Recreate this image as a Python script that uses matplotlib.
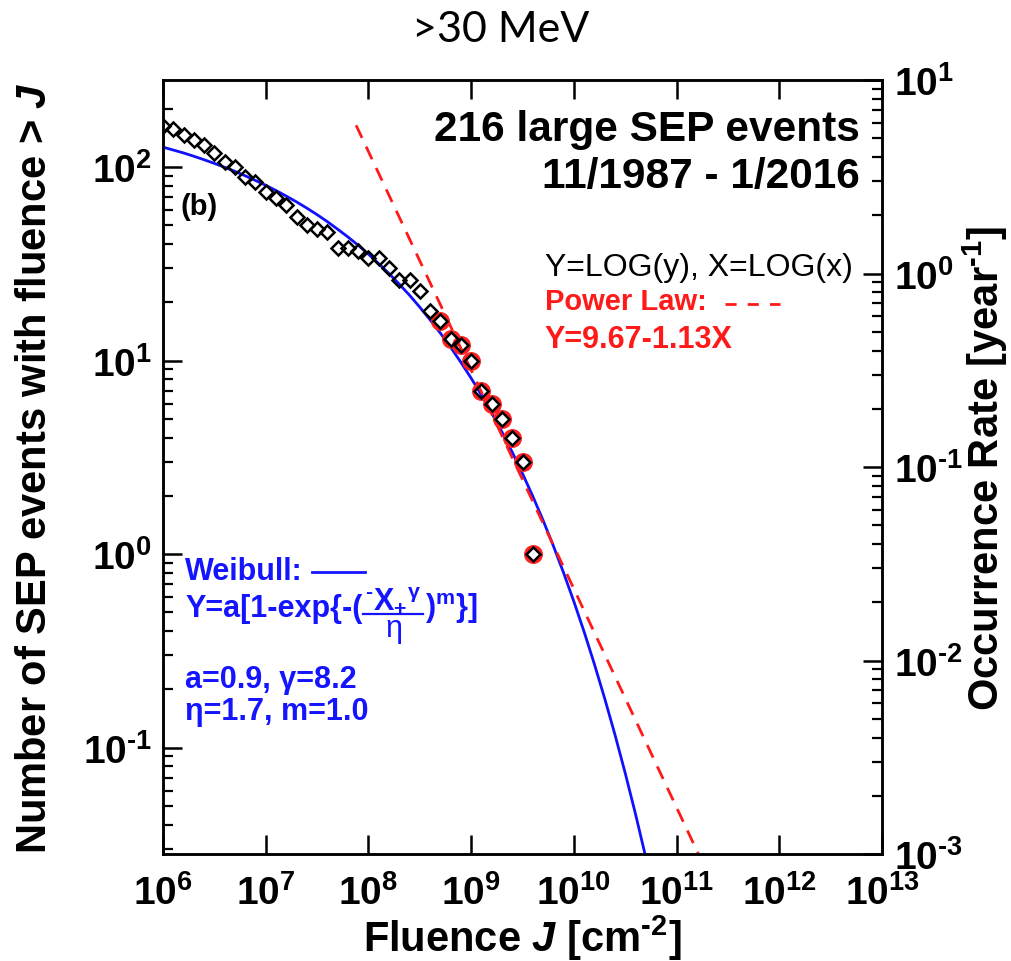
import numpy as np
import matplotlib
matplotlib.use('Agg')
import matplotlib.pyplot as plt
from matplotlib.ticker import FixedLocator, FuncFormatter, NullLocator, LogLocator, NullFormatter

SANS = 'Liberation Sans'
plt.rcParams['mathtext.fontset'] = 'custom'
plt.rcParams['mathtext.rm'] = SANS + ':bold'
plt.rcParams['mathtext.bf'] = SANS + ':bold'
plt.rcParams['mathtext.sf'] = SANS + ':bold'
plt.rcParams['mathtext.it'] = SANS + ':bold:italic'

# ---------------- data ----------------
years = 28.2  # 11/1987 - 1/2016
fluence_log = [6.0, 6.1, 6.2, 6.3, 6.4, 6.5, 6.6, 6.7, 6.8, 6.9,
               7.0, 7.1, 7.2, 7.3, 7.4, 7.5, 7.6, 7.7, 7.8, 7.9,
               8.0, 8.1, 8.2, 8.3, 8.4, 8.5, 8.6, 8.7, 8.8, 8.9,
               9.0, 9.1, 9.2, 9.3, 9.4, 9.5, 9.6]
n_events = [164, 157, 146, 138, 130, 119, 106, 100, 89, 84,
            74, 69, 64, 55, 50, 48, 46, 38, 38, 37,
            34, 34, 30, 26, 26, 23, 18, 16, 13, 12,
            10, 7, 6, 5, 4, 3, 1]
fit_start = 27  # first point used in the power-law fit (red circles)

weibull_log_x = [6.0, 6.1, 6.2, 6.3, 6.4, 6.5, 6.6, 6.7, 6.8, 6.9,
                 7.0, 7.1, 7.2, 7.3, 7.4, 7.5, 7.6, 7.7, 7.8, 7.9,
                 8.0, 8.1, 8.2, 8.3, 8.4, 8.5, 8.6, 8.7, 8.8, 8.9,
                 9.0, 9.1, 9.2, 9.3, 9.4, 9.5, 9.6, 9.7, 9.8, 9.9,
                 10.0, 10.1, 10.2, 10.3, 10.4, 10.5, 10.6, 10.7]
weibull_log_rate = [0.653, 0.638, 0.623, 0.606, 0.588, 0.569, 0.549, 0.528, 0.505, 0.481,
                    0.456, 0.429, 0.400, 0.370, 0.338, 0.304, 0.268, 0.229, 0.189, 0.146,
                    0.100, 0.051, 0.000, -0.055, -0.112, -0.174, -0.239, -0.308, -0.381, -0.459,
                    -0.541, -0.628, -0.721, -0.819, -0.923, -1.034, -1.151, -1.275, -1.407, -1.547,
                    -1.695, -1.852, -2.019, -2.196, -2.383, -2.582, -2.793, -3.017]
power_log_x = [7.88, 11.21]
power_log_rate = [0.766, -2.997]

x_tick_exps = [6, 7, 8, 9, 10, 11, 12, 13]
left_tick_exps = [-1, 0, 1, 2]
right_tick_exps = [-3, -2, -1, 0, 1]

# ---------------- figure ----------------
fig = plt.figure(figsize=(10.12, 9.62), dpi=100)
ax = fig.add_axes([163/1012, 1-855/962, 719/1012, 774/962])
ax2 = ax.twinx()

fx = 10.0 ** np.array(fluence_log)
ny = np.array(n_events, dtype=float)

ax.plot(10.0 ** np.array(weibull_log_x), years * 10.0 ** np.array(weibull_log_rate),
        color='#1010ff', lw=2.0, zorder=3, solid_capstyle='butt')
ax.plot(10.0 ** np.array(power_log_x), years * 10.0 ** np.array(power_log_rate),
        color='#ff1a1a', lw=2.0, dashes=(5, 3.5), zorder=3)
ax.plot(fx[fit_start:], ny[fit_start:], 'o', ms=11, mfc='none', mec='#ff2020', mew=2.6, zorder=4)
ax.plot(fx, ny, 'D', ms=7, mfc='none', mec='black', mew=1.8, zorder=5)

ax.set_xscale('log')
ax.set_yscale('log')
ax.set_xlim(1e6, 1e13)
ax.set_ylim(1e-3 * years, 10 * years)
ax2.set_yscale('log')
ax2.set_ylim(1e-3, 10)

for s in ax.spines.values():
    s.set_linewidth(1.8)
for s in ax2.spines.values():
    s.set_linewidth(1.8)

def fmt(v, p):
    e = int(round(np.log10(v)))
    if e < 0:
        return r'$\mathbf{10^{\text{-}%d}}$' % (-e)
    return r'$\mathbf{10^{%d}}$' % e

ax.xaxis.set_major_locator(FixedLocator([10.0 ** e for e in x_tick_exps]))
ax.xaxis.set_minor_locator(NullLocator())
ax.xaxis.set_major_formatter(FuncFormatter(fmt))
ax.yaxis.set_major_locator(FixedLocator([10.0 ** e for e in left_tick_exps]))
ax.yaxis.set_minor_locator(LogLocator(base=10, subs=np.arange(2, 10), numticks=20))
ax.yaxis.set_major_formatter(FuncFormatter(fmt))
ax.yaxis.set_minor_formatter(NullFormatter())
ax2.yaxis.set_major_locator(FixedLocator([10.0 ** e for e in right_tick_exps]))
ax2.yaxis.set_minor_locator(LogLocator(base=10, subs=np.arange(2, 10), numticks=20))
ax2.yaxis.set_major_formatter(FuncFormatter(fmt))
ax2.yaxis.set_minor_formatter(NullFormatter())

TS = 28
ax.tick_params(axis='x', which='major', direction='in', length=14, width=1.8,
               top=True, bottom=True, labelsize=TS, pad=14)
ax.tick_params(axis='y', which='major', direction='in', length=14, width=1.8,
               left=True, right=False, labelsize=TS, pad=8)
ax.tick_params(axis='y', which='minor', direction='in', length=7, width=1.6,
               left=True, right=False)
ax2.tick_params(axis='y', which='major', direction='in', length=14, width=1.8,
                labelsize=TS, pad=9)
ax2.tick_params(axis='y', which='minor', direction='in', length=7, width=1.6)

LS = 30
ax.set_xlabel(r'Fluence $J$ [cm$^{\text{-2}}$]', family=SANS, weight='bold', size=LS)
ax.set_ylabel(r'Number of SEP events with fluence > $J$', family=SANS, weight='bold', size=LS)
ax2.set_ylabel(r'Occurrence Rate [year$^{\text{-1}}$]', family=SANS, weight='bold', size=LS)
ax.xaxis.set_label_coords(0.5, -0.076)
ax.yaxis.set_label_coords(-0.150, 0.5)
ax2.yaxis.set_label_coords(1.110, 0.5)

fig.text(501/1012, 1 - 30/962, '>30 MeV', ha='center', va='center', family='Lato', size=31)

# annotations
ax.text(0.969, 0.937, '216 large SEP events', transform=ax.transAxes, ha='right', va='center',
        family=SANS, weight='bold', size=30.5)
ax.text(0.969, 0.876, '11/1987 - 1/2016', transform=ax.transAxes, ha='right', va='center',
        family=SANS, weight='bold', size=30.5)
ax.text(0.024, 0.837, '(b)', transform=ax.transAxes, ha='left', va='center',
        family=SANS, weight='bold', size=21)
ax.text(0.960, 0.758, 'Y=LOG(y), X=LOG(x)', transform=ax.transAxes, ha='right', va='center',
        family=SANS, size=23)
ax.text(0.531, 0.714, 'Power Law:', transform=ax.transAxes, ha='left', va='center',
        family=SANS, weight='bold', size=21, color='#ff1a1a')
ax.plot([0.782, 0.858], [0.711, 0.711], transform=ax.transAxes, color='#ff1a1a', lw=2,
        dashes=(4, 4))
ax.text(0.531, 0.665, 'Y=9.67-1.13X', transform=ax.transAxes, ha='left', va='center',
        family=SANS, weight='bold', size=22, color='#ff1a1a')

blue = '#1414ff'
ax.text(0.031, 0.366, 'Weibull:', transform=ax.transAxes, ha='left', va='center',
        family=SANS, weight='bold', size=22, color=blue)
ax.plot([0.207, 0.281], [0.364, 0.364], transform=ax.transAxes, color=blue, lw=2)

# Weibull formula built from pieces: prefix, numerator, bar, denominator, suffix
fig.canvas.draw()
rend = fig.canvas.get_renderer()
inv = ax.transAxes.inverted()
fkw = dict(transform=ax.transAxes, ha='left', va='baseline', family=SANS,
           weight='bold', size=22, color=blue)
base_y = 0.3075
t_pre = ax.text(0.031, base_y, 'Y=a[1-exp{-(', **fkw)
x_num0 = inv.transform((t_pre.get_window_extent(rend).x1, 0))[0] + 0.003
t_num = ax.text(x_num0, base_y + 0.011,
                r'$^{\text{-}}\mathbf{X}_{\text{+}}{}^{\mathrm{\gamma}}$', **fkw)
x_num1 = inv.transform((t_num.get_window_extent(rend).x1, 0))[0] + 0.003
ax.plot([x_num0 - 0.002, x_num1], [base_y + 0.0028, base_y + 0.0028],
        transform=ax.transAxes, color=blue, lw=1.6)
ax.text((x_num0 + x_num1) / 2, base_y - 0.026, '\u03b7', transform=ax.transAxes,
        ha='center', va='baseline', family=SANS, size=22, color=blue)
ax.text(x_num1 + 0.002, base_y, r')$^{\mathbf{m}}$}]', **fkw)

ax.text(0.031, 0.226, 'a=0.9, \u03b3=8.2', transform=ax.transAxes, ha='left', va='center',
        family=SANS, weight='bold', size=22, color=blue)
ax.text(0.031, 0.185, '\u03b7=1.7, m=1.0', transform=ax.transAxes, ha='left', va='center',
        family=SANS, weight='bold', size=22, color=blue)

fig.savefig('out.png', dpi=100)
